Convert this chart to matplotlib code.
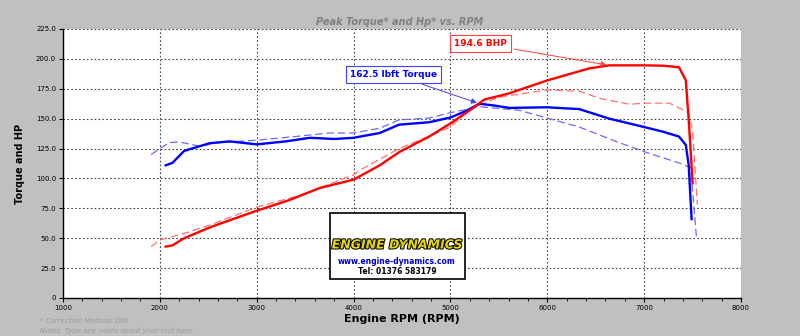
import matplotlib
matplotlib.use('Agg')
import matplotlib.pyplot as plt
import matplotlib.patheffects as pe
from matplotlib.patches import Rectangle

# run 1 (solid) - torque and hp
rpm_tq = [2060, 2130, 2250, 2515, 2720, 3000, 3300, 3550, 3800, 4000, 4270, 4470, 4780,
          5000, 5150, 5300, 5450, 5610, 6000, 6330, 6640, 7000, 7200, 7360, 7430, 7460, 7490]
torque = [111, 113, 123, 129.5, 131, 128.5, 131, 134, 133, 134, 138, 145, 147,
          151, 156, 162.5, 161, 159, 159.5, 158, 150, 143, 139, 135, 128, 111, 66]
rpm_hp = [2060, 2130, 2250, 2515, 2720, 3000, 3340, 3650, 4000, 4270, 4470, 4780,
          5000, 5200, 5350, 5600, 6000, 6430, 6640, 7000, 7200, 7360, 7430, 7460, 7490, 7500]
hp = [43, 44, 50, 59, 65, 73, 82, 92, 99, 111, 122, 135,
      146, 157, 166, 171, 182, 192, 194.6, 194.6, 194.3, 193, 182, 149, 110, 96]

# run 2 (dashed) - comparison
rpm_tq2 = [1910, 2000, 2100, 2200, 2410, 2620, 3000, 3450, 3750, 4000, 4270, 4470, 4780,
           5000, 5300, 5710, 6000, 6330, 6740, 7050, 7360, 7480, 7510, 7540]
torque2 = [120, 125, 130, 130.5, 127, 130, 132, 135.5, 138, 138, 142, 149, 150.5,
           155, 160, 157, 150.5, 143, 130, 121, 113, 109, 80, 51]
rpm_hp2 = [1910, 2000, 2250, 2515, 3000, 3450, 4000, 4090, 4470, 4890, 5000, 5200, 5500,
           6000, 6330, 6540, 6850, 7000, 7260, 7460, 7500, 7540, 7550]
hp2 = [43, 48.5, 54, 61, 76, 86, 103, 108, 125, 139, 143, 158, 168,
       174, 173, 167, 162, 163, 163, 155, 140, 90, 78]

peak_hp = (6640, 194.6)
peak_tq = (5300, 162.5)

fig = plt.figure(figsize=(8, 3.36), dpi=100, facecolor='#c0c0c0')
ax = fig.add_axes([0.07875, 0.1131, 0.8475, 0.8006])
ax.set_facecolor('white')

ax.plot(rpm_tq2, torque2, color='#6a6aff', lw=0.9, dashes=(6, 3))
ax.plot(rpm_hp2, hp2, color='#ff7070', lw=0.9, dashes=(6, 3))
ax.plot(rpm_tq, torque, color='#0000ff', lw=1.7)
ax.plot(rpm_hp, hp, color='#ff0000', lw=1.7)

ax.set_xlim(1000, 8000)
ax.set_ylim(0, 225)
ax.set_xticks(range(1000, 8001, 1000))
ax.set_xticks(range(1000, 8001, 200), minor=True)
yt = [0, 25, 50, 75, 100, 125, 150, 175, 200, 225]
ax.set_yticks(yt)
ax.set_yticklabels(['0'] + ['%.1f' % v for v in yt[1:]])
ax.tick_params(labelsize=5, length=3, color='black', pad=2)
ax.tick_params(which='minor', length=2)
ax.grid(True, color='#444444', linestyle=(0, (1.5, 2)), lw=0.8)
for s in ['left', 'bottom']:
    ax.spines[s].set_linewidth(1)
for s in ['top', 'right']:
    ax.spines[s].set_visible(False)

ax.set_xlabel('Engine RPM (RPM)', fontsize=8, fontweight='bold', labelpad=2)
ax.set_ylabel('Torque and HP', fontsize=7, fontweight='bold', labelpad=8)
fig.text(0.5, 0.935, 'Peak Torque* and Hp* vs. RPM', ha='center', va='center',
         fontsize=7, style='italic', fontweight='bold', color='#808080')

# annotations
ax.annotate('194.6 BHP', xy=peak_hp, xytext=(5310, 213), fontsize=6.5, fontweight='bold',
            color='#ff0000', ha='center', va='center',
            bbox=dict(boxstyle='square,pad=0.45', fc='white', ec='#ff4040', lw=0.8),
            arrowprops=dict(arrowstyle='-|>', color='#ff4040', lw=0.7, mutation_scale=8))
ax.annotate('162.5 lbft Torque', xy=peak_tq, xytext=(4410, 187), fontsize=6.5, fontweight='bold',
            color='#0000ff', ha='center', va='center',
            bbox=dict(boxstyle='square,pad=0.45', fc='white', ec='#4040ff', lw=0.8),
            arrowprops=dict(arrowstyle='-|>', color='#4040ff', lw=0.7, mutation_scale=8))

# logo box
fig.patches.append(Rectangle((330 / 800, 1 - 279 / 336), 135 / 800, 66 / 336,
                             transform=fig.transFigure, fc='white', ec='black', lw=1.2))
fig.text(397 / 800, 1 - 245 / 336, 'ENGINE DYNAMICS', ha='center', va='center', fontsize=9,
         fontweight='bold', style='italic', color='#e8d800',
         path_effects=[pe.withStroke(linewidth=1.5, foreground='black')])
fig.text(397 / 800, 1 - 261 / 336, 'www.engine-dynamics.com', ha='center', va='center',
         fontsize=5.5, fontweight='bold', color='#0000cc')
fig.text(397 / 800, 1 - 271 / 336, 'Tel: 01376 583179', ha='center', va='center',
         fontsize=5.5, fontweight='bold', color='black')

fig.text(40 / 800, 1 - 321 / 336, '* Correction Method: DIN', fontsize=5, style='italic',
         color='#9a9a9a', va='center')
fig.text(40 / 800, 1 - 331 / 336, 'Notes: Type any notes about your test here.', fontsize=5,
         style='italic', color='#9a9a9a', va='center')

fig.savefig('out.png', dpi=100, facecolor=fig.get_facecolor())
